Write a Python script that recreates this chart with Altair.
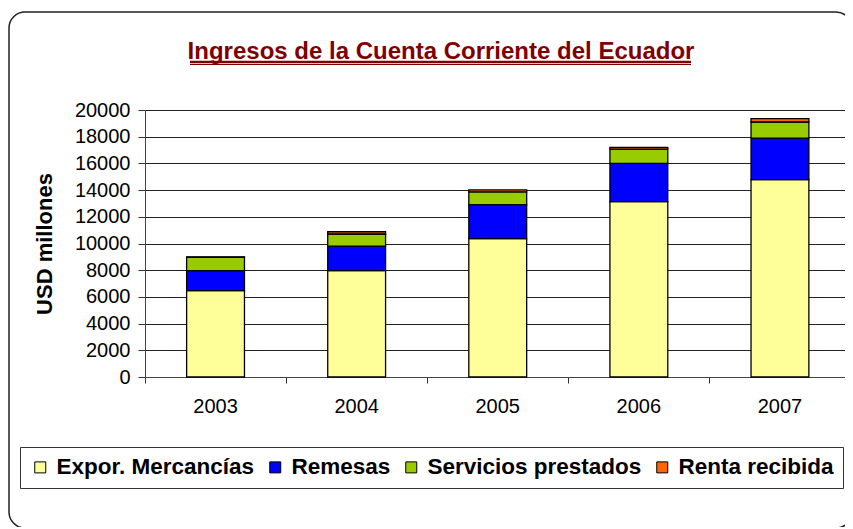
import altair as alt
import pandas as pd

years = ["2003", "2004", "2005", "2006", "2007"]
series = ["Expor. Mercancías", "Remesas", "Servicios prestados", "Renta recibida"]
colors = ["#FFFF99", "#0000FF", "#99CC00", "#FF6600"]
expor = [6470, 7970, 10360, 13130, 14780]
remesas = [1500, 1840, 2550, 2870, 3120]
servicios = [1000, 900, 950, 1070, 1200]
renta = [20, 170, 150, 125, 250]
y_ticks = list(range(0, 20001, 2000))

rows = []
for i, s in enumerate(series):
    vals = [expor, remesas, servicios, renta][i]
    for y, v in zip(years, vals):
        rows.append({"year": y, "serie": s, "valor": v, "idx": i})
df = pd.DataFrame(rows)

FONT = "Liberation Sans"

bars = alt.Chart(df).mark_bar(
    stroke="black", strokeWidth=1.3, width=alt.RelativeBandSize(0.41)
).encode(
    x=alt.X("year:N", sort=years,
            scale=alt.Scale(paddingInner=0, paddingOuter=0),
            axis=alt.Axis(title=None, bandPosition=0,
                          labelAngle=0, labelFontSize=20, labelFont=FONT,
                          labelColor="black", labelPadding=13, tickSize=6,
                          tickColor="#333", domainColor="#444", grid=False,
                          labelBaseline="top")),
    y=alt.Y("valor:Q", stack="zero",
            scale=alt.Scale(domain=[0, 20000], nice=False),
            axis=alt.Axis(title="USD millones", values=y_ticks, format="d",
                          titleFont=FONT, titleFontSize=22, titleFontWeight="bold",
                          titleColor="black", titlePadding=18,
                          labelFont=FONT, labelFontSize=20, labelColor="black",
                          labelPadding=8, tickSize=7, tickColor="#333",
                          domainColor="#444", gridColor="#222", gridWidth=1)),
    color=alt.Color("serie:N", sort=series,
                    scale=alt.Scale(domain=series, range=colors),
                    legend=alt.Legend(title=None, orient="none", legendX=-125, legendY=337,
                                      direction="horizontal", columns=4,
                                      symbolType="square", symbolSize=121,
                                      symbolStrokeColor="black", symbolStrokeWidth=1,
                                      labelFont=FONT, labelFontSize=22.5,
                                      labelFontWeight="bold", labelColor="black",
                                      labelOffset=5, columnPadding=9, padding=9,
                                      strokeColor="#333", fillColor="white",
                                      labelLimit=400)),
    order=alt.Order("idx:Q", sort="ascending"),
)

one = alt.Data(values=[{"a": 1}])

border = alt.Chart(one).mark_rect(
    fillOpacity=0, stroke="#222", strokeWidth=1.5, cornerRadius=16
).encode(x=alt.value(-136), x2=alt.value(707), y=alt.value(-98), y2=alt.value(418))

title = alt.Chart(one).mark_text(
    text="Ingresos de la Cuenta Corriente del Ecuador", font=FONT, fontSize=24,
    fontWeight="bold", color="#800000", align="center", baseline="alphabetic"
).encode(x=alt.value(296), y=alt.value(-51.5))

ul1 = alt.Chart(one).mark_rule(color="#800000", strokeWidth=2.5).encode(
    x=alt.value(45), x2=alt.value(546), y=alt.value(-48))
ul2 = alt.Chart(one).mark_rule(color="#800000", strokeWidth=1.2).encode(
    x=alt.value(45), x2=alt.value(546), y=alt.value(-45.5))

chart = alt.layer(border, bars, title, ul1, ul2).properties(
    width=705.5, height=267,
    autosize=alt.AutoSizeParams(type="none"),
    padding={"left": 137, "top": 102, "right": -5.5, "bottom": 150},
).configure_view(
    fill="#CCFFFF", stroke="#444", strokeWidth=1
).configure(background="white")

chart.save("out.html", embed_options={"renderer": "svg", "actions": False})
